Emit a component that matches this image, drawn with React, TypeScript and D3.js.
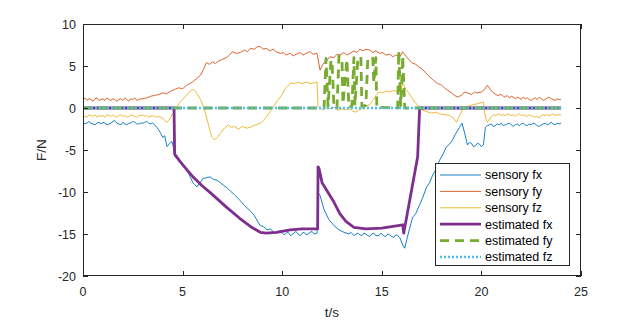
import React from "react";
import * as d3 from "d3";

type P = [number, number];

const xTicks = [0, 5, 10, 15, 20, 25];
const yTicks = [-20, -15, -10, -5, 0, 5, 10];

const seriesNames = ["sensory fx", "sensory fy", "sensory fz", "estimated fx", "estimated fy", "estimated fz"];

// Flat, noisy stretches sampled every 0.1 s (start time given)
const fxHeadStart = 0;
const fxHead = [-1.7, -1.9, -1.8, -1.6, -1.8, -1.9, -2.0, -1.8, -1.7, -1.9, -1.7, -1.8, -2.0, -1.9, -1.8, -1.6,
  -1.5, -1.8, -1.9, -2.0, -1.7, -1.9, -2.0, -1.8, -1.8, -1.6, -1.7, -1.9, -1.9, -1.8, -1.8, -1.7, -1.6, -1.8,
  -1.9, -1.8, -2.0];
const fxTailStart = 20.2;
const fxTail = [-2.3, -2.1, -2.0, -1.9, -2.2, -2.1, -1.9, -2.0, -1.8, -2.1, -2.0, -1.9, -1.8, -2.0, -2.2, -2.0,
  -1.9, -2.1, -1.9, -1.8, -2.0, -2.1, -1.9, -2.0, -1.8, -1.9, -2.1, -2.2, -2.0, -1.9, -1.8, -2.0, -1.9, -1.7,
  -1.9, -2.0, -1.8, -1.9, -1.8];
const fxMid: P[] = [
  [3.8, -2.6], [3.9, -3.0], [4.0, -3.5], [4.1, -3.3], [4.22, -4.6],
  [4.35, -4.2], [4.47, -4.0], [4.55, -4.8], [4.62, -5.8], [4.8, -6.2], [5.0, -6.8], [5.22, -7.4], [5.4, -8.3],
  [5.52, -8.9], [5.72, -9.4], [5.85, -9.0], [6.02, -8.4], [6.2, -8.3], [6.38, -8.2], [6.55, -8.5], [6.73, -8.6],
  [6.9, -8.9], [7.05, -9.2], [7.23, -9.5], [7.4, -9.9], [7.6, -10.3], [7.88, -11.0], [8.1, -11.6], [8.38, -12.2],
  [8.6, -12.8], [8.89, -14.0], [9.05, -14.1], [9.24, -14.5], [9.4, -14.4], [9.6, -14.8], [9.74, -14.9], [9.9, -14.6],
  [10.0, -14.9], [10.1, -15.1], [10.2, -14.9], [10.3, -14.8], [10.42, -15.2], [10.54, -15.0], [10.62, -14.8],
  [10.7, -14.7], [10.8, -15.0], [10.9, -15.2], [11.0, -14.9], [11.1, -14.8], [11.2, -15.1], [11.3, -15.0],
  [11.4, -14.8], [11.5, -14.7], [11.6, -15.0], [11.75, -14.9], [11.8, -10.1], [11.9, -10.4], [12.1, -12.1],
  [12.35, -13.3], [12.6, -14.0], [12.85, -14.5], [13.1, -14.8],
  [13.35, -15.0], [13.45, -14.8], [13.6, -15.2], [13.7, -15.0], [13.8, -14.9], [13.9, -15.1], [14.0, -15.2],
  [14.1, -14.9], [14.2, -15.0], [14.3, -15.2], [14.4, -15.3], [14.5, -15.0], [14.6, -14.9], [14.7, -15.2],
  [14.85, -15.2], [14.95, -14.9], [15.0, -15.0], [15.1, -15.2], [15.2, -15.3], [15.3, -15.0], [15.4, -15.1],
  [15.5, -15.3], [15.6, -15.4], [15.7, -15.1], [15.8, -15.2], [15.9, -15.4], [16.05, -16.3], [16.15, -16.7],
  [16.25, -15.7], [16.4, -14.3], [16.55, -13.0], [16.7, -12.6], [16.9, -11.5], [17.05, -10.7], [17.25, -9.4],
  [17.4, -8.9], [17.55, -8.0], [17.7, -7.4], [17.9, -6.2], [18.05, -5.6], [18.25, -4.6], [18.4, -4.3],
  [18.55, -3.8], [18.7, -3.1], [18.9, -2.3], [19.03, -1.8], [19.18, -3.2], [19.3, -4.4], [19.4, -4.1],
  [19.5, -4.2], [19.6, -4.6], [19.7, -4.5], [19.8, -4.2], [19.9, -4.3], [20.0, -4.6], [20.1, -4.4],
];

const fyHeadStart = 0;
const fyHead = [1.0, 1.2, 0.9, 1.1, 1.0, 0.8, 1.1, 1.2, 0.9, 1.0, 1.1, 0.9, 1.2, 1.0, 0.9, 1.1, 1.0, 0.8, 1.0,
  1.1, 0.9, 1.2, 1.0, 0.8, 1.1, 1.0, 1.2, 0.9, 1.0, 1.1, 1.1];
const fyTailStart = 21.0;
const fyTail = [1.6, 1.4, 1.3, 1.5, 1.2, 1.4, 1.3, 1.1, 1.3, 1.2, 1.0, 1.3, 1.1, 1.2, 1.0, 0.9, 1.1, 1.2, 1.0,
  1.3, 1.1, 0.9, 1.0, 1.2, 1.3, 1.1, 1.0, 0.9, 1.1, 1.0, 1.0];
const fyMid: P[] = [
  [3.2, 1.2], [3.4, 1.4],
  [3.6, 1.5], [3.8, 1.6], [4.0, 1.8], [4.2, 1.7], [4.4, 2.0], [4.6, 2.2], [4.8, 2.4], [5.0, 2.3], [5.2, 2.7],
  [5.35, 2.9], [5.5, 3.1], [5.7, 3.5], [5.9, 3.9], [6.05, 4.6], [6.2, 5.4], [6.35, 5.2], [6.5, 5.5], [6.65, 5.3],
  [6.8, 5.6], [7.0, 5.8], [7.2, 6.0], [7.35, 6.3], [7.5, 6.7], [7.7, 6.5], [7.9, 6.6], [8.1, 6.9], [8.25, 6.7],
  [8.4, 7.1], [8.6, 7.0], [8.75, 7.3], [8.9, 7.3], [9.05, 7.0], [9.2, 7.1], [9.4, 6.8], [9.55, 7.0], [9.7, 6.7],
  [9.9, 6.5], [10.05, 6.6], [10.2, 6.3], [10.4, 6.5], [10.55, 6.2], [10.7, 6.4], [10.9, 6.6], [11.05, 6.3],
  [11.2, 6.5], [11.4, 6.7], [11.55, 6.4], [11.75, 6.5], [11.9, 4.5], [12.0, 5.0], [12.1, 5.4], [12.25, 5.7],
  [12.4, 6.1], [12.6, 6.0], [12.75, 6.4], [12.9, 6.3], [13.1, 6.6], [13.25, 6.3], [13.4, 6.5], [13.6, 6.8],
  [13.75, 6.6], [13.9, 7.0], [14.05, 6.8], [14.2, 7.0], [14.4, 6.9], [14.55, 6.6], [14.7, 6.8], [14.9, 6.5],
  [15.05, 6.6], [15.2, 6.3], [15.4, 6.4], [15.55, 6.1], [15.7, 6.3], [15.9, 6.1], [16.05, 6.7], [16.2, 6.2],
  [16.35, 5.8], [16.5, 5.4], [16.7, 5.2], [16.85, 4.9], [17.0, 4.7], [17.2, 4.2], [17.4, 3.7], [17.6, 3.3],
  [17.8, 2.9], [17.95, 2.8], [18.1, 2.5], [18.3, 2.1], [18.5, 1.8], [18.65, 1.5], [18.8, 1.3], [19.0, 1.5],
  [19.15, 1.9], [19.3, 1.8], [19.5, 1.6], [19.65, 1.9], [19.8, 1.8], [20.0, 1.9], [20.15, 2.2], [20.3, 2.7],
  [20.45, 2.2], [20.6, 1.8], [20.8, 1.5],
];

const fzHeadStart = 0;
const fzHead = [-0.9, -1.0, -1.1, -0.8, -0.9, -1.0, -0.8, -1.1, -0.9, -1.0, -0.9, -1.1, -0.8, -0.9, -1.0, -0.8,
  -1.0, -1.1, -0.9, -0.8, -1.0, -0.9, -1.1, -1.0, -0.8, -0.9, -1.0, -1.1, -0.9, -0.9, -0.8, -1.0, -0.9, -1.1,
  -1.0, -0.9, -1.0, -1.1, -1.0, -1.1, -1.2];
const fzTailStart = 20.6;
const fzTail = [-0.8, -0.9, -0.8, -0.7, -0.9, -0.8, -0.9, -0.7, -0.8, -0.9, -0.8, -1.0, -0.8, -0.7, -0.9, -0.8,
  -0.9, -1.0, -0.8, -0.9, -1.0, -1.1, -1.0, -1.2, -0.9, -0.8, -0.9, -0.8, -0.9, -0.8, -0.7, -0.9, -0.8, -0.8,
  -0.8];
const fzMid: P[] = [
  [4.2, -1.7], [4.3, -1.5], [4.5, -0.7],
  [4.7, 0.1], [4.85, 0.6], [5.0, 1.0], [5.15, 1.4], [5.3, 1.8], [5.5, 2.2], [5.6, 2.1], [5.7, 1.8], [5.9, 1.0],
  [6.1, -0.2], [6.3, -2.0], [6.45, -3.4], [6.6, -3.8], [6.75, -3.5], [6.9, -3.0], [7.1, -2.4], [7.3, -2.0],
  [7.45, -2.3], [7.6, -2.2], [7.8, -2.5], [8.0, -2.2], [8.2, -2.4], [8.4, -2.3], [8.55, -2.1], [8.7, -2.0],
  [8.9, -1.8], [9.05, -1.5], [9.2, -1.1], [9.4, -0.4], [9.6, 0.3], [9.8, 1.0], [10.0, 1.6], [10.15, 2.3],
  [10.3, 2.7], [10.45, 3.0], [10.6, 2.9], [10.8, 3.1], [10.95, 2.9], [11.1, 3.0], [11.25, 3.1], [11.4, 2.9],
  [11.6, 3.0], [11.75, 3.1], [11.8, 0.2], [12.0, -0.2], [12.2, 0.0], [12.4, -0.1], [12.6, 0.1], [12.8, -0.3],
  [13.0, -0.1], [13.2, -0.2], [13.4, -0.1], [13.55, -0.4], [13.7, -0.5], [13.85, -0.2], [14.0, -0.1], [14.2, 0.2],
  [14.4, 0.4], [14.55, 0.9], [14.7, 1.5], [14.85, 1.9], [15.0, 1.8], [15.2, 2.0], [15.4, 1.9], [15.6, 2.1],
  [15.8, 1.9], [15.95, 2.0], [16.05, 3.0], [16.2, 2.2], [16.35, 1.8], [16.5, 1.2], [16.7, 0.6], [16.85, 0.2],
  [17.0, -0.2], [17.2, -0.4], [17.5, -0.6], [17.7, -0.5], [17.9, -0.7], [18.2, -0.8], [18.4, -0.9], [18.6, -1.2],
  [18.75, -1.7], [18.9, -0.9], [19.05, -0.2], [19.3, 0.2], [19.6, 0.4], [19.8, 0.5], [20.1, 0.7], [20.2, -1.1],
  [20.3, -1.7], [20.45, -1.2],
];

const estimatedFx: P[] = [
  [0, 0], [4.57, 0], [4.6, -5.5], [4.85, -6.3], [5.2, -7.3], [5.52, -8.2], [5.7, -8.6], [5.95, -9.2],
  [6.4, -10.1], [7.2, -11.8], [7.85, -13.1], [8.4, -14.1], [8.9, -14.8], [9.2, -14.9], [9.7, -14.8],
  [10.4, -14.5], [11.0, -14.4], [11.78, -14.4], [11.8, -7.0], [11.85, -7.2], [12.0, -8.9], [12.55, -11.0],
  [12.9, -12.6], [13.2, -13.5], [13.6, -14.2], [14.2, -14.4], [15.0, -14.3], [16.05, -13.9], [16.1, -14.9],
  [16.8, -5.8], [16.9, 0], [24, 0],
];

const estimatedFy: P[] = [
  [0, 0], [12.1, 0], [12.2, 5.9], [12.3, 0.2], [12.45, 5.7], [12.5, 5.6], [12.6, 0.1], [12.75, 0.0],
  [12.85, 6.2], [13.0, 5.9], [13.05, 0.5], [13.15, 3.2], [13.25, 5.8], [13.35, 0.1], [13.5, 0.2], [13.6, 6.0],
  [13.65, 0.3], [13.8, 5.9], [13.95, 6.1], [14.0, 0.2], [14.2, 0.3], [14.3, 6.0], [14.55, 5.9], [14.6, 3.0],
  [14.7, 6.0], [14.75, 0.1], [15.8, 0], [15.85, 6.8], [15.95, 0.3], [16.05, 6.2], [16.15, 0], [24, 0],
];

const estimatedFz: P[] = [
  [0, 0], [24, 0],
];

const grid = (start: number, vals: number[]): P[] =>
  vals.map((v, i) => [Math.round((start + i * 0.1) * 100) / 100, v] as P);

const sensoryFx: P[] = [...grid(fxHeadStart, fxHead), ...fxMid, ...grid(fxTailStart, fxTail)];
const sensoryFy: P[] = [...grid(fyHeadStart, fyHead), ...fyMid, ...grid(fyTailStart, fyTail)];
const sensoryFz: P[] = [...grid(fzHeadStart, fzHead), ...fzMid, ...grid(fzTailStart, fzTail)];

const W = 642;
const H = 322;
const L = 83, R = 581, T = 24, B = 276;

const colors = ["#0072BD", "#D95319", "#EDB120", "#7E2F8E", "#77AC30", "#4DBEEE"];
const widths = [0.9, 0.9, 0.9, 2.8, 2.8, 2.4];
const dashes = [undefined, undefined, undefined, undefined, "9,6", "2,2"];
const allSeries = [sensoryFx, sensoryFy, sensoryFz, estimatedFx, estimatedFy, estimatedFz];

export default function App() {
  const x = d3.scaleLinear().domain([0, 25]).range([L, R]);
  const y = d3.scaleLinear().domain([-20, 10]).range([B, T]);
  const line = d3.line<P>().x((d) => x(d[0])).y((d) => y(d[1]));
  const font = "'Liberation Sans', Arial, Helvetica, sans-serif";
  const axisColor = "#262626";
  const tick = 5;

  const legX = 435, legY = 163, legW = 134, legH = 102;
  const rowH = 16.4;

  return (
    <svg width={W} height={H} style={{ position: "absolute", left: 0, top: 0, background: "#fff" }} fontFamily={font}>
      <defs>
        <clipPath id="plotclip">
          <rect x={L} y={T} width={R - L} height={B - T} />
        </clipPath>
      </defs>
      <rect x={0} y={0} width={W} height={H} fill="#fff" />
      <g clipPath="url(#plotclip)">
        {allSeries.map((s, i) => (
          <path
            key={i}
            d={line(s) || ""}
            fill="none"
            stroke={colors[i]}
            strokeWidth={widths[i]}
            strokeDasharray={dashes[i]}
            strokeLinejoin="round"
          />
        ))}
      </g>
      <rect x={L + 0.5} y={T + 0.5} width={R - L - 1} height={B - T - 1} fill="none" stroke={axisColor} strokeWidth={1} />
      {xTicks.map((t) => (
        <g key={"x" + t}>
          <line x1={Math.round(x(t)) + 0.5} x2={Math.round(x(t)) + 0.5} y1={B} y2={B - tick} stroke={axisColor} />
          <line x1={Math.round(x(t)) + 0.5} x2={Math.round(x(t)) + 0.5} y1={T} y2={T + tick} stroke={axisColor} />
          <text x={x(t)} y={296} fontSize={12.5} textAnchor="middle" fill={axisColor}>
            {t}
          </text>
        </g>
      ))}
      {yTicks.map((t) => (
        <g key={"y" + t}>
          <line x1={L} x2={L + tick} y1={Math.round(y(t)) + 0.5} y2={Math.round(y(t)) + 0.5} stroke={axisColor} />
          <line x1={R} x2={R - tick} y1={Math.round(y(t)) + 0.5} y2={Math.round(y(t)) + 0.5} stroke={axisColor} />
          <text x={76} y={y(t) + 4.5} fontSize={12.5} textAnchor="end" fill={axisColor}>
            {t}
          </text>
        </g>
      ))}
      <text x={(L + R) / 2} y={317} fontSize={13.5} textAnchor="middle" fill={axisColor}>
        t/s
      </text>
      <text
        transform={`translate(46, ${(T + B) / 2}) rotate(-90)`}
        fontSize={13.5}
        textAnchor="middle"
        fill={axisColor}
      >
        F/N
      </text>
      <rect x={legX + 0.5} y={legY + 0.5} width={legW} height={legH} fill="#fff" stroke={axisColor} strokeWidth={1} />
      {seriesNames.map((name, i) => {
        const cy = legY + 12 + i * rowH;
        return (
          <g key={name}>
            <line
              x1={legX + 5}
              x2={legX + 46}
              y1={cy}
              y2={cy}
              stroke={colors[i]}
              strokeWidth={widths[i]}
              strokeDasharray={dashes[i]}
            />
            <text x={legX + 50} y={cy + 4.3} fontSize={12.5} fill="#000">
              {name}
            </text>
          </g>
        );
      })}
    </svg>
  );
}
